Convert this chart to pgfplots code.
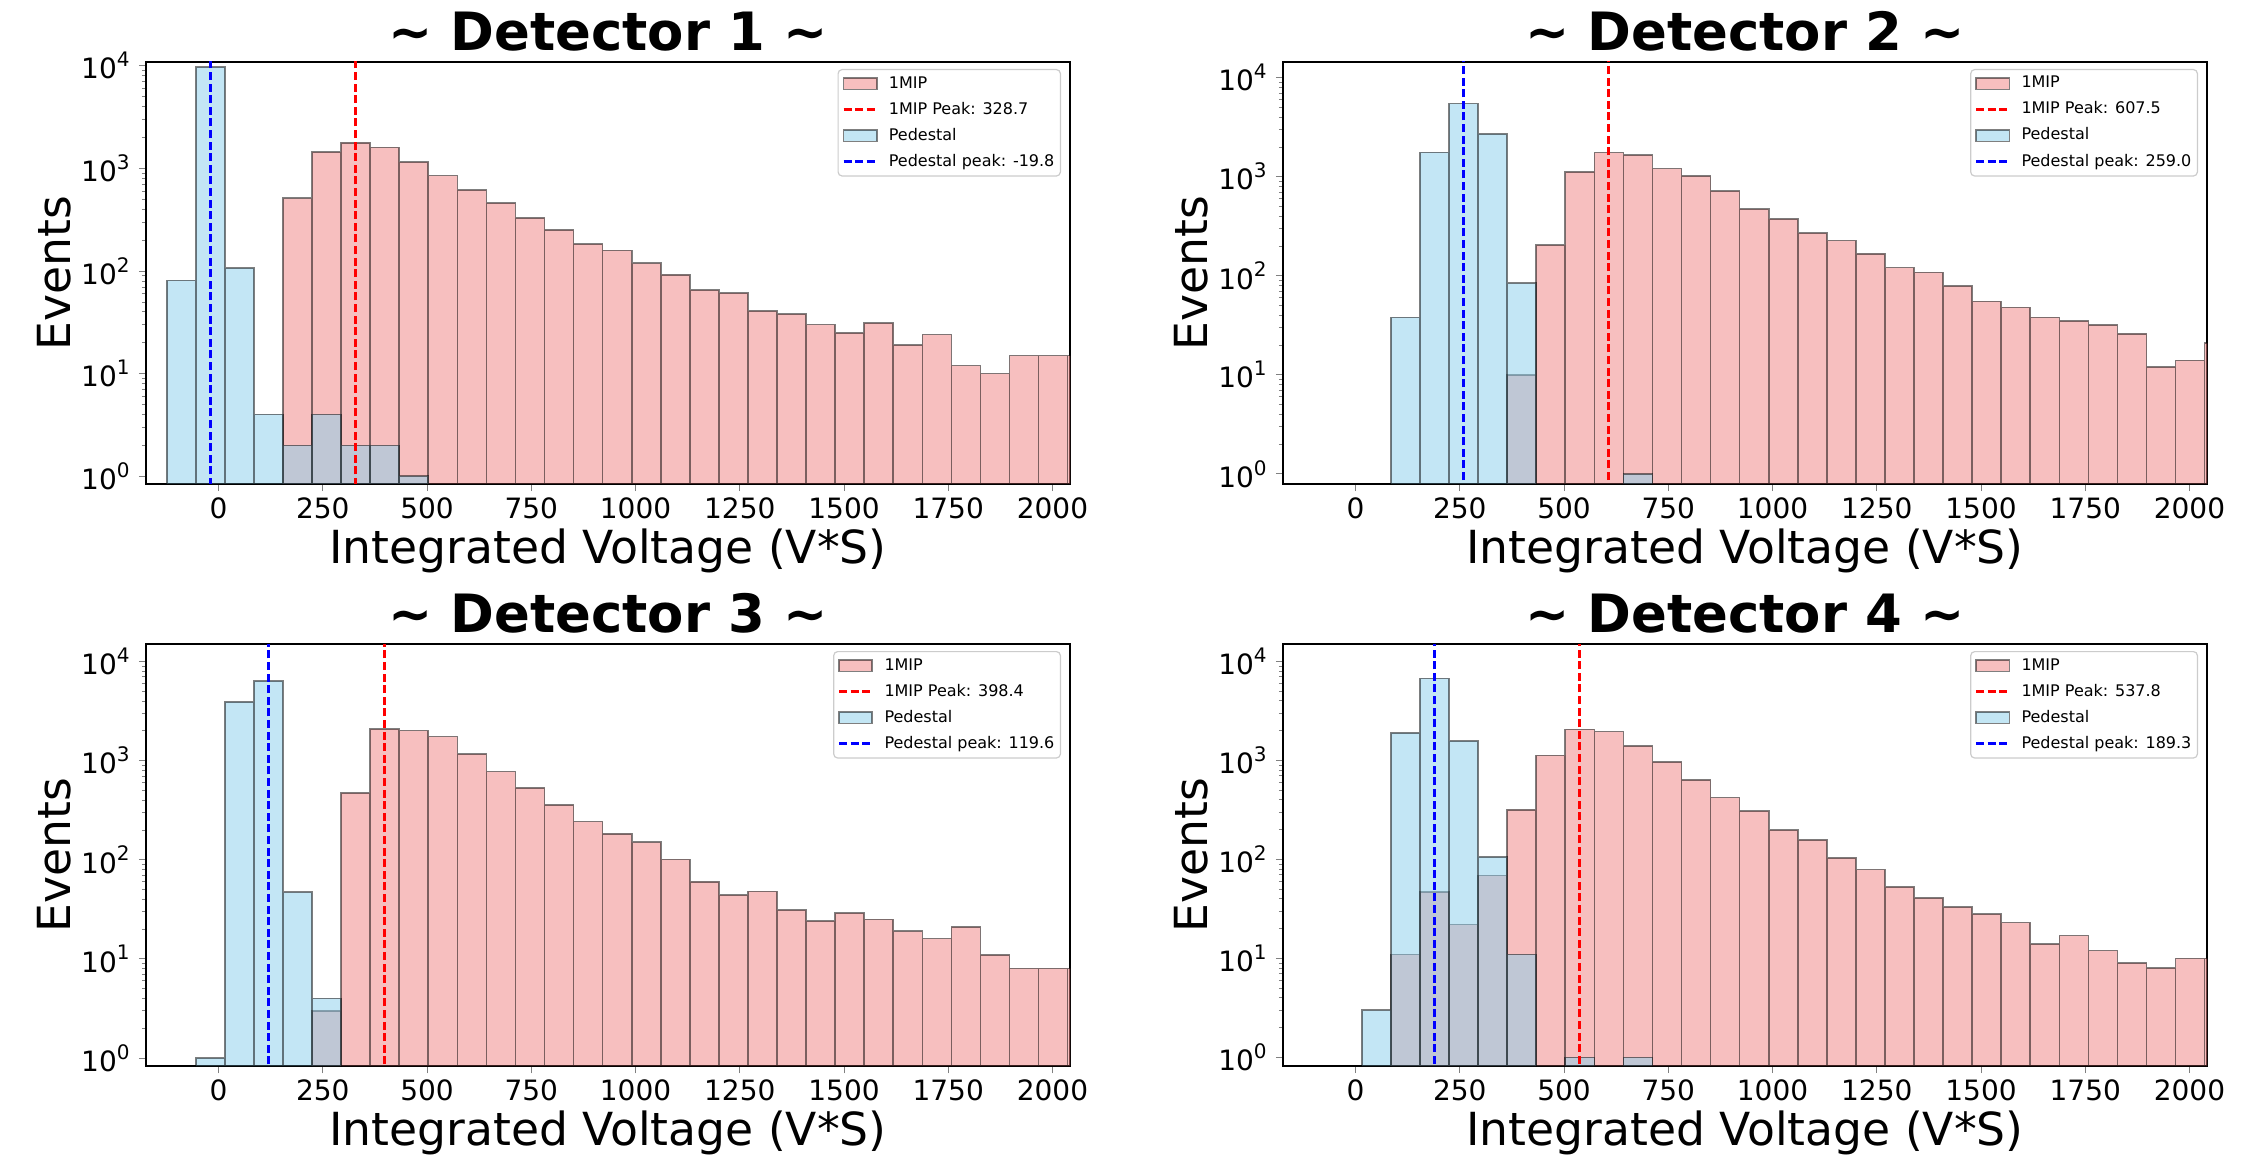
\documentclass[border=0pt]{standalone}
\usepackage{fontspec}
\setmainfont{DejaVu Sans}
\usepackage{pgfplots}
\pgfplotsset{compat=1.18}
\definecolor{lcoral}{RGB}{240,128,128}
\definecolor{skyb}{RGB}{135,206,235}
\pgfplotsset{
  area legend/.style={legend image code/.code={\draw[##1, sharp corners] (0pt,-1.4pt) rectangle (8.3pt,1.4pt);}},
  legend image code/.code={\draw[#1, sharp corners] (0pt,0pt) -- (8.3pt,0pt);},
}
\pgfplotsset{every axis/.append style={
    scale only axis, width=231pt, height=105.5pt,
    xmin=-174, xmax=2042,
    xtick={0,250,...,2000},
    ytick={1,10,100,1000,10000},
    yticklabels={10\textsuperscript{0},10\textsuperscript{1},10\textsuperscript{2},10\textsuperscript{3},10\textsuperscript{4}},
    tick align=outside, tick pos=left,
    major tick length=1.8pt, minor tick length=1.05pt,
    axis line style={line width=0.4pt, black},
    tick label style={font=\fontsize{7}{8}\selectfont},
    xticklabel style={inner sep=1.4pt},
    yticklabel style={inner sep=1.6pt},
    /pgf/number format/assume math mode=true,
    /pgf/number format/1000 sep={},
    xlabel={Integrated Voltage (V*S)},
    ylabel={Events},
    label style={font=\fontsize{11.4}{13}\selectfont, inner sep=0pt},
    x label style={at={(axis description cs:0.5,-0.1886)}, anchor=base},
    y label style={at={(axis description cs:-0.0801,0.5)}, anchor=south, rotate=0},
    legend cell align=left,
    legend style={at={(axis description cs:1,1)}, anchor=north east, xshift=-2.25pt, yshift=-1.75pt,
      draw=black!20, line width=0.3pt, rounded corners=1pt, fill=white, fill opacity=0.8, draw opacity=1, text opacity=1,
      font=\fontsize{4.0}{4.8}\selectfont, inner sep=1pt, row sep=1.4pt, column sep=2.2pt,
      nodes={inner sep=0.5pt, text height=3.1pt, text depth=1pt}},
}}
\pgfplotsset{every axis title/.style={at={(axis description cs:0.5,1.0284)}, anchor=base, font=\fontsize{13.2}{15}\selectfont\bfseries}}
\begin{document}
\begin{tikzpicture}
\useasboundingbox (0,0) rectangle (564.75pt,292.5pt);
% ---------------- Detector 1
\begin{axis}[ymode=log, log origin=infty, at={(36.5pt,277pt)}, anchor=north west, ymin=0.84, ymax=10900,
  title={\textasciitilde{} Detector 1 \textasciitilde}]
\addplot[ybar, bar width=69.7, bar shift=0pt, fill=lcoral, fill opacity=0.5, draw=black, draw opacity=0.5, line width=0.4pt, area legend] coordinates {(189.3,512) (259.0,1440) (328.7,1780) (398.4,1600) (468.1,1150) (537.8,850) (607.5,615) (677.2,460) (746.9,330) (816.6,252) (886.3,183) (956.0,159) (1025.7,119) (1095.4,92) (1165.1,65) (1234.8,61) (1304.5,41) (1374.2,38) (1443.9,30) (1513.6,25) (1583.3,31) (1653.0,19) (1722.7,24) (1792.4,12) (1862.1,10) (1931.8,15) (2001.5,15) (2071.2,15)};
\addlegendentry{1MIP}
\addlegendimage{red, line width=0.7pt, dash pattern=on 2pt off 0.9pt}
\addlegendentry{1MIP Peak: 328.7}
\addplot[ybar, bar width=69.7, bar shift=0pt, fill=skyb, fill opacity=0.5, draw=black, draw opacity=0.5, line width=0.4pt, area legend] coordinates {(-89.5,81) (-19.8,9700) (49.9,107) (119.6,4) (189.3,2) (259.0,4) (328.7,2) (398.4,2) (468.1,1)};
\addlegendentry{Pedestal}
\addplot[blue, line width=0.7pt, dash pattern=on 2pt off 0.9pt] coordinates {(-19.8,0.1) (-19.8,100000)};
\addlegendentry{Pedestal peak: -19.8}
\addplot[red, line width=0.7pt, dash pattern=on 2pt off 0.9pt, forget plot] coordinates {(328.7,0.1) (328.7,100000)};
\end{axis}
% ---------------- Detector 2
\begin{axis}[ymode=log, log origin=infty, at={(320.75pt,277pt)}, anchor=north west, ymin=0.79, ymax=14400,
  title={\textasciitilde{} Detector 2 \textasciitilde}]
\addplot[ybar, bar width=69.7, bar shift=0pt, fill=lcoral, fill opacity=0.5, draw=black, draw opacity=0.5, line width=0.4pt, area legend] coordinates {(398.4,10) (468.1,204) (537.8,1120) (607.5,1750) (677.2,1650) (746.9,1210) (816.6,1020) (886.3,715) (956.0,470) (1025.7,376) (1095.4,269) (1165.1,226) (1234.8,167) (1304.5,121) (1374.2,108) (1443.9,79) (1513.6,55) (1583.3,48) (1653.0,38) (1722.7,35) (1792.4,32) (1862.1,26) (1931.8,12) (2001.5,14) (2071.2,21)};
\addlegendentry{1MIP}
\addlegendimage{red, line width=0.7pt, dash pattern=on 2pt off 0.9pt}
\addlegendentry{1MIP Peak: 607.5}
\addplot[ybar, bar width=69.7, bar shift=0pt, fill=skyb, fill opacity=0.5, draw=black, draw opacity=0.5, line width=0.4pt, area legend] coordinates {(119.6,38) (189.3,1760) (259.0,5480) (328.7,2710) (398.4,84) (677.2,1)};
\addlegendentry{Pedestal}
\addplot[blue, line width=0.7pt, dash pattern=on 2pt off 0.9pt] coordinates {(259.0,0.1) (259.0,100000)};
\addlegendentry{Pedestal peak: 259.0}
\addplot[red, line width=0.7pt, dash pattern=on 2pt off 0.9pt, forget plot] coordinates {(607.5,0.1) (607.5,100000)};
\end{axis}
% ---------------- Detector 3
\begin{axis}[ymode=log, log origin=infty, at={(36.5pt,131.5pt)}, anchor=north west, ymin=0.83, ymax=15000,
  title={\textasciitilde{} Detector 3 \textasciitilde}]
\addplot[ybar, bar width=69.7, bar shift=0pt, fill=lcoral, fill opacity=0.5, draw=black, draw opacity=0.5, line width=0.4pt, area legend] coordinates {(259.0,3) (328.7,472) (398.4,2080) (468.1,2010) (537.8,1750) (607.5,1160) (677.2,773) (746.9,530) (816.6,357) (886.3,243) (956.0,183) (1025.7,150) (1095.4,101) (1165.1,60) (1234.8,44) (1304.5,48) (1374.2,31) (1443.9,24) (1513.6,29) (1583.3,25) (1653.0,19) (1722.7,16) (1792.4,21) (1862.1,11) (1931.8,8) (2001.5,8) (2071.2,8)};
\addlegendentry{1MIP}
\addlegendimage{red, line width=0.7pt, dash pattern=on 2pt off 0.9pt}
\addlegendentry{1MIP Peak: 398.4}
\addplot[ybar, bar width=69.7, bar shift=0pt, fill=skyb, fill opacity=0.5, draw=black, draw opacity=0.5, line width=0.4pt, area legend] coordinates {(-19.8,1) (49.9,3910) (119.6,6340) (189.3,47) (259.0,4)};
\addlegendentry{Pedestal}
\addplot[blue, line width=0.7pt, dash pattern=on 2pt off 0.9pt] coordinates {(119.6,0.1) (119.6,100000)};
\addlegendentry{Pedestal peak: 119.6}
\addplot[red, line width=0.7pt, dash pattern=on 2pt off 0.9pt, forget plot] coordinates {(398.4,0.1) (398.4,100000)};
\end{axis}
% ---------------- Detector 4
\begin{axis}[ymode=log, log origin=infty, at={(320.75pt,131.5pt)}, anchor=north west, ymin=0.82, ymax=15000,
  title={\textasciitilde{} Detector 4 \textasciitilde}]
\addplot[ybar, bar width=69.7, bar shift=0pt, fill=lcoral, fill opacity=0.5, draw=black, draw opacity=0.5, line width=0.4pt, area legend] coordinates {(119.6,11) (189.3,47) (259.0,22) (328.7,69) (398.4,318) (468.1,1125) (537.8,2060) (607.5,1955) (677.2,1400) (746.9,970) (816.6,637) (886.3,422) (956.0,307) (1025.7,198) (1095.4,158) (1165.1,104) (1234.8,79) (1304.5,53) (1374.2,41) (1443.9,33) (1513.6,28) (1583.3,23) (1653.0,14) (1722.7,17) (1792.4,12) (1862.1,9) (1931.8,8) (2001.5,10) (2071.2,10)};
\addlegendentry{1MIP}
\addlegendimage{red, line width=0.7pt, dash pattern=on 2pt off 0.9pt}
\addlegendentry{1MIP Peak: 537.8}
\addplot[ybar, bar width=69.7, bar shift=0pt, fill=skyb, fill opacity=0.5, draw=black, draw opacity=0.5, line width=0.4pt, area legend] coordinates {(49.9,3) (119.6,1900) (189.3,6740) (259.0,1570) (328.7,106) (398.4,11) (537.8,1) (677.2,1)};
\addlegendentry{Pedestal}
\addplot[blue, line width=0.7pt, dash pattern=on 2pt off 0.9pt] coordinates {(189.3,0.1) (189.3,100000)};
\addlegendentry{Pedestal peak: 189.3}
\addplot[red, line width=0.7pt, dash pattern=on 2pt off 0.9pt, forget plot] coordinates {(537.8,0.1) (537.8,100000)};
\end{axis}
\end{tikzpicture}
\end{document}
